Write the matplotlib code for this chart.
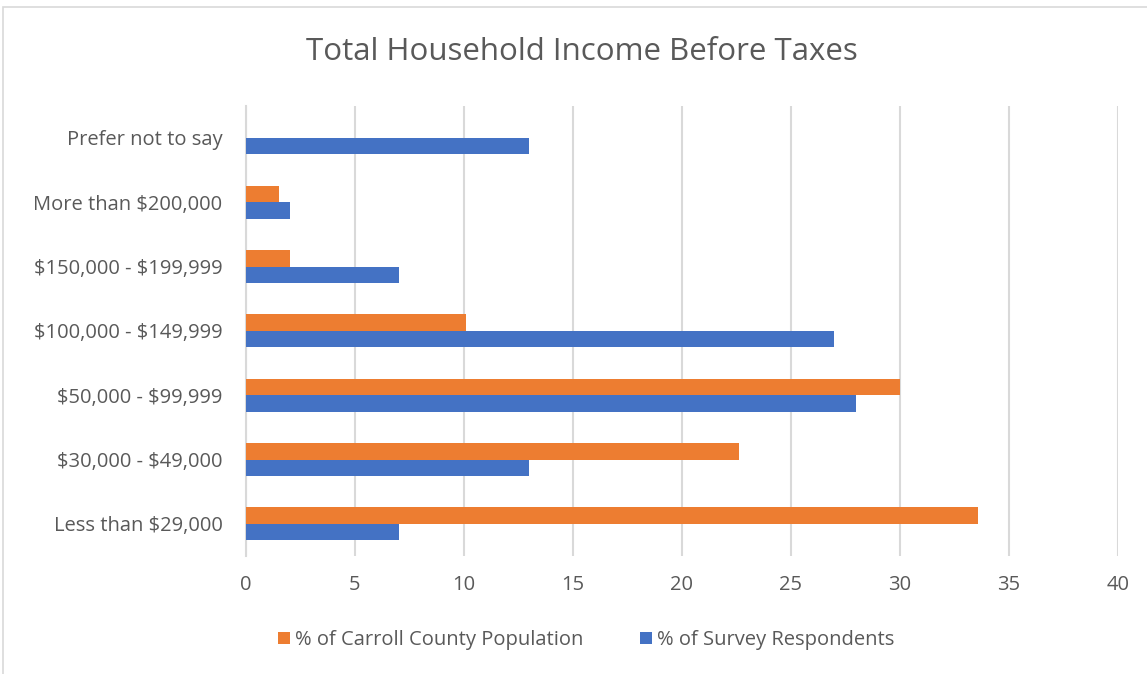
import numpy as np
import matplotlib.pyplot as plt
from matplotlib.patches import Rectangle

categories = ['Less than \\$29,000', '\\$30,000 - \\$49,000', '\\$50,000 - \\$99,999',
              '\\$100,000 - \\$149,999', '\\$150,000 - \\$199,999',
              'More than \\$200,000', 'Prefer not to say']
county = [33.6, 22.6, 30.0, 10.1, 2.0, 1.5, 0.0]
respondents = [7, 13, 28, 27, 7, 2, 13]

plt.rcParams['font.family'] = ['Open Sans', 'DejaVu Sans']
text_color = '#595959'
orange = '#ED7D31'
blue = '#4472C4'

fig = plt.figure(figsize=(11.47, 6.74), dpi=100)
ax = fig.add_axes([0.2145, 0.175, 0.760, 0.668])

y = np.arange(len(categories))
h = 0.256
ax.barh(y + h / 2, county, height=h, color=orange, label='% of Carroll County Population', zorder=3)
ax.barh(y - h / 2, respondents, height=h, color=blue, label='% of Survey Respondents', zorder=3)

ax.set_xlim(0, 40)
ax.set_ylim(-0.5, len(categories) - 0.5)
ax.set_xticks(np.arange(0, 41, 5))
ax.set_yticks(y)
ax.set_yticklabels(categories)
ax.tick_params(axis='both', length=0, labelsize=14.5, labelcolor=text_color)
ax.tick_params(axis='y', pad=17)
ax.tick_params(axis='x', pad=14)
ax.grid(axis='x', color='#d9d9d9', linewidth=1.5, zorder=0)
for s in ['top', 'right', 'bottom']:
    ax.spines[s].set_visible(False)
ax.spines['left'].set_color('#d9d9d9')
ax.spines['left'].set_linewidth(1.5)

fig.text(582 / 1147, 1 - 52 / 674, 'Total Household Income Before Taxes',
         ha='center', va='center', fontsize=22.5, color=text_color)

handles, labels = ax.get_legend_handles_labels()
fig.legend(handles, labels, loc='center', bbox_to_anchor=(586 / 1147, 1 - 640 / 674),
           ncol=2, frameon=False, fontsize=14.5, labelcolor=text_color,
           handlelength=0.6, handleheight=0.6, handletextpad=0.25, columnspacing=2.8)

fig.patches.append(Rectangle((3 / 1147, -0.01), 1.0, 1 - 7 / 674 + 0.01,
                             transform=fig.transFigure, fill=False,
                             edgecolor='#d9d9d9', linewidth=1.2))

plt.savefig('out.png', dpi=100)
